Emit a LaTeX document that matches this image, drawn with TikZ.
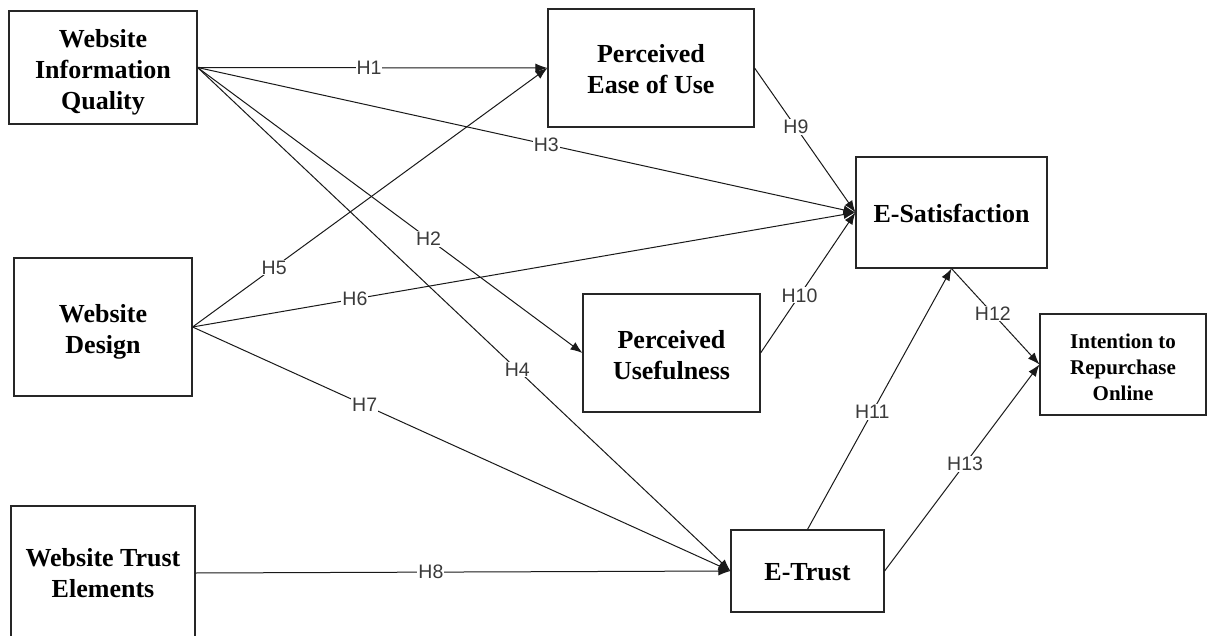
\documentclass[tikz,border=0pt]{standalone}
\usepackage{fontspec}
\setmainfont{Liberation Serif}
\newfontfamily\labelfont{Liberation Sans}
\usetikzlibrary{arrows.meta}
\definecolor{labelgray}{HTML}{3A3A3A}
\tikzset{
  construct/.style={draw=black!85, line width=1.1pt, fill=white, align=center,
    inner sep=0pt, font=\fontsize{26}{31}\selectfont\bfseries},
  boxtext/.style={align=center, inner sep=0pt, font=\fontsize{26}{31}\selectfont\bfseries},
  smallboxtext/.style={boxtext, font=\fontsize{21}{26}\selectfont\bfseries},
  path link/.style={draw=black!90, line width=1pt,
    -{Latex[length=12pt,width=9pt]}},
  hyp/.style={fill=white, inner sep=1pt, text=labelgray,
    font=\labelfont\fontsize{19.5}{22}\selectfont}
}
\begin{document}
\begin{tikzpicture}[x=1pt, y=-1pt]
\useasboundingbox (0,0) rectangle (1207,636);
\fill[white] (0,0) rectangle (1207,636);

% constructs (box text placed as a centre label so it can be nudged)
\node[construct, minimum width=188pt, minimum height=113pt,
  label={[boxtext, yshift=-5pt]center:{Website\\Information\\Quality}}] (wiq) at (103,67.5) {};
\node[construct, minimum width=178pt, minimum height=138pt,
  label={[boxtext, yshift=-5pt]center:{Website\\Design}}] (wd) at (103,327) {};
\node[construct, minimum width=184pt, minimum height=134pt,
  label={[boxtext]center:{Website Trust\\Elements}}] (wte) at (103,573) {};
\node[construct, minimum width=206pt, minimum height=118pt,
  label={[boxtext, yshift=-1pt]center:{Perceived\\Ease of Use}}] (peu) at (651,68) {};
\node[construct, minimum width=177pt, minimum height=118pt,
  label={[boxtext, yshift=-2pt]center:{Perceived\\Usefulness}}] (pu) at (671.5,353) {};
\node[construct, minimum width=191pt, minimum height=111pt,
  label={[boxtext, yshift=-1pt]center:{E-Satisfaction}}] (es) at (951.5,212.5) {};
\node[construct, minimum width=153pt, minimum height=82pt,
  label={[boxtext, yshift=-1pt]center:{E-Trust}}] (et) at (807.5,571) {};
\node[construct, minimum width=166pt, minimum height=101pt,
  label={[smallboxtext, yshift=-3pt]center:{Intention to\\Repurchase\\Online}}] (iro) at (1123,364.5) {};

% hypothesised paths
\draw[path link] (wiq.east) -- node[hyp, pos=0.49] {H1} (peu.west);
\draw[path link] (wiq.east) -- node[hyp, pos=0.60] {H2} (pu.west);
\draw[path link] (wiq.east) -- node[hyp, pos=0.53] {H3} (es.west);
\draw[path link] (wiq.east) -- node[hyp, pos=0.60] {H4} (et.west);
\draw[path link] (wd.east) -- node[hyp, pos=0.23] {H5} (peu.west);
\draw[path link] (wd.east) -- node[hyp, pos=0.245] {H6} (es.west);
\draw[path link] (wd.east) -- node[hyp, pos=0.32] {H7} (et.west);
\draw[path link] (wte.east) -- node[hyp, pos=0.44] {H8} (et.west);
\draw[path link] (peu.east) -- node[hyp, pos=0.41] {H9} (es.west);
\draw[path link] (pu.east) -- node[hyp, pos=0.41] {H10} (es.west);
\draw[path link] (et.north) -- node[hyp, pos=0.45] {H11} (es.south);
\draw[path link] (es.south) -- node[hyp, pos=0.47] {H12} (iro.west);
\draw[path link] (et.east) -- node[hyp, pos=0.52] {H13} (iro.west);
\end{tikzpicture}
\end{document}
